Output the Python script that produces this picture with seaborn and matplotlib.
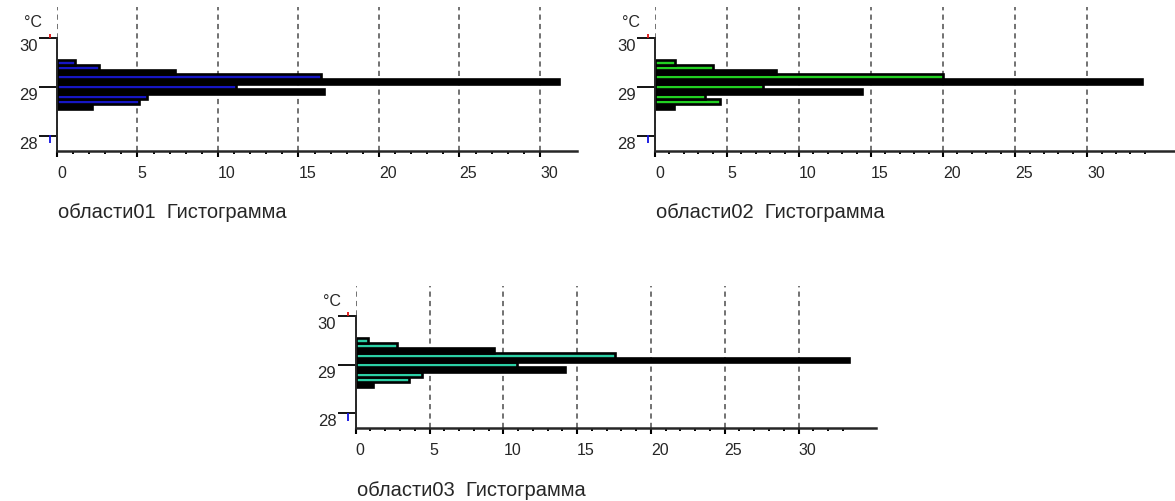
import numpy as np
import pandas as pd
import matplotlib
matplotlib.use("Agg")
import matplotlib.pyplot as plt
import matplotlib.transforms as mtrans
from matplotlib.ticker import FixedLocator
import seaborn as sns

# ---------------- data ----------------
temps = [29.5, 29.4, 29.3, 29.2, 29.1, 29.0, 28.9, 28.8, 28.7, 28.6]
counts_01 = [1.1, 2.6, 7.3, 16.4, 31.2, 11.1, 16.6, 5.6, 5.1, 2.2]
counts_02 = [1.4, 4.0, 8.4, 20.0, 33.8, 7.5, 14.4, 3.5, 4.5, 1.3]
counts_03 = [0.8, 2.8, 9.4, 17.6, 33.4, 10.9, 14.2, 4.5, 3.6, 1.2]
region_names = ["области01", "области02", "области03"]
title_suffix = "Гистограмма"
unit_label = "°C"
y_ticks = [28, 29, 30]
x_ticks = [0, 5, 10, 15, 20, 25, 30]
x_max = [32.3, 36.1, 35.25]
minor_last = [30, 34, 33]
upper_limit = 30
lower_limit = 28
# bins that render as solid black in the reference
dark_bins = [29.3, 29.1, 28.9, 28.6]

# ---------------- style ----------------
sns.set_style("ticks")
plt.rcParams["font.family"] = ["Liberation Sans", "DejaVu Sans"]

colors = ["#1616c4", "#22d022", "#2ccfa5"]
W, H = 1175, 502
fig = plt.figure(figsize=(W / 100, H / 100), dpi=100)

def fig_rect(left, top, right, bottom):
    return [left / W, (H - bottom) / H, (right - left) / W, (bottom - top) / H]

rects = [
    fig_rect(57, 8, 577, 151.7),
    fig_rect(655, 8, 1175, 151.7),
    fig_rect(355.7, 287, 876, 429.3),
]
all_counts = [counts_01, counts_02, counts_03]
bin_edges = [round(v, 3) for v in np.arange(28.55, 29.56, 0.1)]

for i in range(3):
    ax = fig.add_axes(rects[i])
    df = pd.DataFrame({"temp": temps, "count": all_counts[i]})
    sns.histplot(data=df, y="temp", weights="count", bins=bin_edges,
                 color=colors[i], edgecolor="black", linewidth=1.9,
                 alpha=1, ax=ax, zorder=3)
    for p in ax.patches:
        c = p.get_y() + p.get_height() / 2
        if any(abs(c - d) < 0.02 for d in dark_bins):
            p.set_facecolor("black")

    ax.set_xlim(0, x_max[i])
    ax.set_ylim(27.69, 30.63)
    ax.set_xlabel("")
    ax.set_ylabel("")

    ax.xaxis.set_major_locator(FixedLocator(x_ticks))
    ax.xaxis.set_minor_locator(FixedLocator(list(range(0, minor_last[i] + 1))))
    ax.set_yticks(y_ticks)
    ax.set_yticklabels([str(t) for t in y_ticks])

    ax.grid(axis="x", which="major", linestyle=(0, (3.0, 2.4)),
            color="#606060", linewidth=1.25, zorder=0)
    ax.set_axisbelow(True)

    for s in ["top", "right"]:
        ax.spines[s].set_visible(False)
    ax.spines["left"].set_bounds(27.69, upper_limit)
    ax.spines["left"].set_linewidth(1.4)
    ax.spines["bottom"].set_linewidth(1.8)
    ax.spines["left"].set_zorder(4)

    ax.tick_params(axis="x", which="major", direction="out", length=4.6,
                   width=1.5, pad=5.5, labelsize=11.5, color="black")
    ax.tick_params(axis="x", which="minor", direction="out", length=2.3,
                   width=1.4, color="black")
    ax.tick_params(axis="y", which="major", direction="out", length=13,
                   width=1.3, pad=1, labelsize=12, color="black")
    for t in ax.yaxis.get_major_ticks():
        t.label1.set_verticalalignment("top")
    for t in ax.xaxis.get_major_ticks():
        t.label1.set_horizontalalignment("left")

    # unit label
    ax.annotate(unit_label, xy=(0, upper_limit),
                xycoords=("axes fraction", "data"),
                xytext=(-24, 16), textcoords="offset pixels",
                ha="center", va="center", fontsize=11.5)

    # limit markers (red at upper, blue at lower)
    base = mtrans.blended_transform_factory(ax.transAxes, ax.transData)
    t_up = base + mtrans.ScaledTranslation(-7.5 / 100, 2.2 / 100, fig.dpi_scale_trans)
    t_lo = base + mtrans.ScaledTranslation(-7.5 / 100, -3.7 / 100, fig.dpi_scale_trans)
    ax.plot([0], [upper_limit], marker="|", markersize=3.2, markeredgewidth=1.3,
            color="#e01010", transform=t_up, clip_on=False)
    ax.plot([0], [lower_limit], marker="|", markersize=5.3, markeredgewidth=1.3,
            color="#1010e0", transform=t_lo, clip_on=False)

    # caption
    ax.annotate(f"{region_names[i]}  {title_suffix}", xy=(0, 0),
                xycoords="axes fraction", xytext=(1, -61),
                textcoords="offset pixels", ha="left", va="center",
                fontsize=14.5)

fig.savefig("out.png", dpi=100)
